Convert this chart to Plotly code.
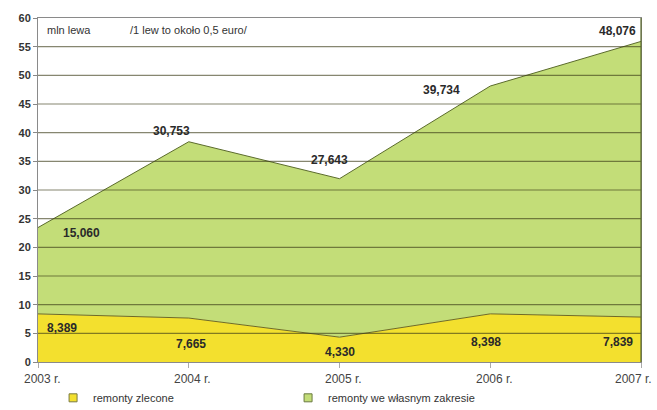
import plotly.graph_objects as go

years = ["2003 r.", "2004 r.", "2005 r.", "2006 r.", "2007 r."]
zlecone = [8.389, 7.665, 4.330, 8.398, 7.839]
wlasne = [15.060, 30.753, 27.643, 39.734, 48.076]
y_ticks = list(range(0, 61, 5))

name_zlecone = "remonty zlecone"
name_wlasne = "remonty we własnym zakresie"

YELLOW = "#F3E02E"
GREEN = "#C3DD78"

fig = go.Figure()
fig.add_trace(go.Scatter(
    x=years, y=zlecone, stackgroup="s", mode="lines",
    line=dict(color="#6f6a25", width=1), fillcolor=YELLOW,
    showlegend=False, hoverinfo="skip"))
fig.add_trace(go.Scatter(
    x=years, y=wlasne, stackgroup="s", mode="lines",
    line=dict(color="#5b6b2c", width=1), fillcolor=GREEN,
    showlegend=False, hoverinfo="skip"))

# legend entries
fig.add_trace(go.Scatter(x=[None], y=[None], mode="markers", name=name_zlecone,
                         marker=dict(symbol="square", size=8, color=YELLOW,
                                     line=dict(color="#7a7a40", width=1))))
fig.add_trace(go.Scatter(x=[None], y=[None], mode="markers", name=name_wlasne,
                         marker=dict(symbol="square", size=8, color=GREEN,
                                     line=dict(color="#6a7a40", width=1))))

def fmt(v):
    return f"{v:.3f}".replace(".", ",")

totals = [a + b for a, b in zip(zlecone, wlasne)]
green_off = [(43, -5), (-17, 11), (-10, 19), (-49, -4), (-24, 10)]
yellow_off = [(24, -14), (2, -26), (0, -15), (-4, -28), (-23, -25)]
lab_font = dict(family="Liberation Sans, Arial", size=12, color="#2a2a2a")
for i, yr in enumerate(years):
    fig.add_annotation(x=yr, y=totals[i], text="<b>" + fmt(wlasne[i]) + "</b>",
                       showarrow=False, xshift=green_off[i][0], yshift=green_off[i][1],
                       font=lab_font)
    fig.add_annotation(x=yr, y=zlecone[i], text="<b>" + fmt(zlecone[i]) + "</b>",
                       showarrow=False, xshift=yellow_off[i][0], yshift=yellow_off[i][1],
                       font=lab_font)

# x tick labels (last one kept inside the picture)
xt_font = dict(family="Liberation Sans, Arial", size=12, color="#444444")
for i, yr in enumerate(years):
    last = i == len(years) - 1
    fig.add_annotation(x=yr, y=0, yref="y", text=yr, showarrow=False,
                       xanchor="right" if last else "center", yanchor="top",
                       xshift=13 if last else 4, yshift=-8, font=xt_font)

txt_font = dict(family="Liberation Sans, Arial", size=11, color="#333333")
fig.add_annotation(xref="paper", yref="paper", x=0.012, y=0.965, xanchor="left",
                   yanchor="middle", text="mln lewa", showarrow=False, font=txt_font)
fig.add_annotation(xref="paper", yref="paper", x=0.149, y=0.965, xanchor="left",
                   yanchor="middle", text="/1 lew to około 0,5 euro/", showarrow=False,
                   font=txt_font)

# gridlines drawn above the filled areas
for v in y_ticks[1:-1]:
    fig.add_shape(type="line", xref="paper", yref="y", x0=0, x1=1, y0=v, y1=v,
                  line=dict(color="rgba(60,60,25,0.62)", width=1.2), layer="above")
fig.add_shape(type="line", xref="paper", yref="paper", x0=1, x1=1, y0=0, y1=1,
              line=dict(color="#5b6b2c", width=1.2), layer="above")

fig.update_layout(
    width=657, height=410,
    margin=dict(l=38, r=16, t=18, b=48, autoexpand=False),
    paper_bgcolor="white", plot_bgcolor="white",
    font=dict(family="Liberation Sans, Arial", color="#333333"),
    legend=dict(orientation="h", x=0.025, y=-0.062, xanchor="left", yanchor="top",
                traceorder="normal",
                font=dict(size=11, color="#333333"), entrywidth=190,
                entrywidthmode="pixels", itemwidth=30),
)
fig.update_xaxes(type="category", range=[0, 4], showgrid=False,
                 showline=True, linecolor="#8a8a8a", linewidth=1, mirror=True,
                 ticks="outside", ticklen=5, tickcolor="#aaaaaa",
                 showticklabels=False, zeroline=False)
fig.update_yaxes(range=[0, 60], tickvals=y_ticks, showgrid=False,
                 showline=True, linecolor="#8a8a8a", linewidth=1, mirror=True,
                 ticks="outside", ticklen=4, tickcolor="#888888",
                 ticktext=["<b>%d</b>" % t for t in y_ticks],
                 tickfont=dict(size=11, color="#333333"), zeroline=False)

fig.write_html("out.html")
